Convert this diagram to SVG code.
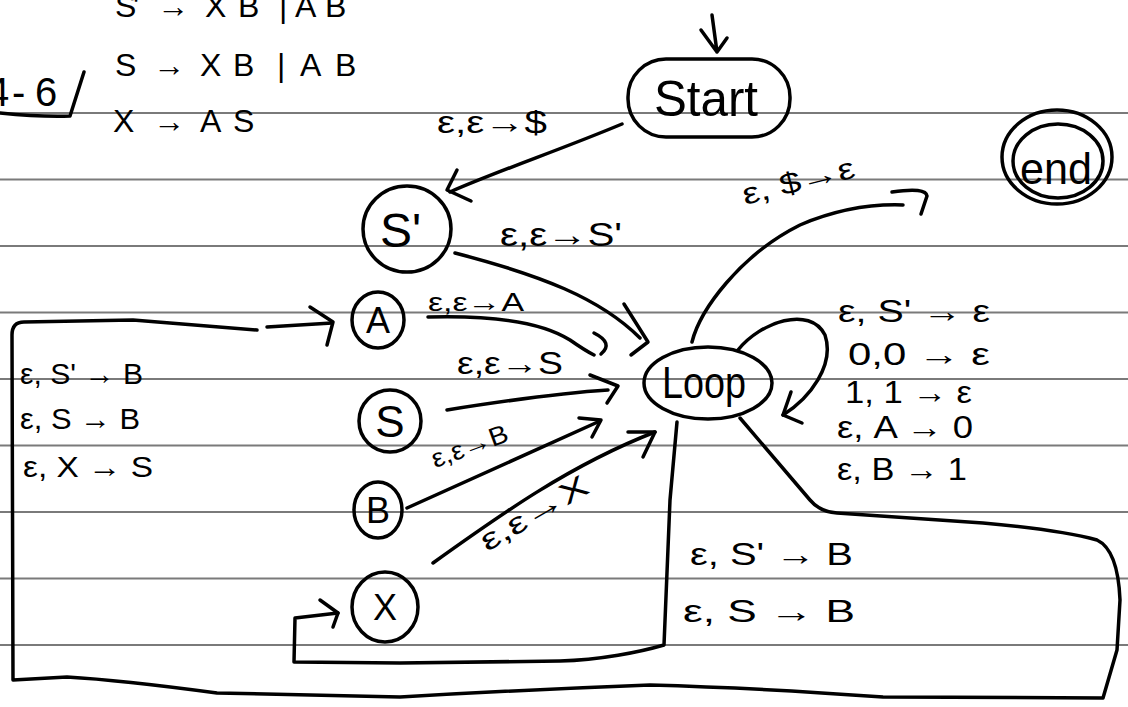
<svg xmlns="http://www.w3.org/2000/svg" width="1128" height="707" viewBox="0 0 1128 707">
  <style>
    .rule { stroke: #7a7a7a; stroke-width: 2; }
    .ink { stroke: #000; stroke-width: 3.5; fill: none; stroke-linecap: round; stroke-linejoin: round; }
    .hand { font-family: "Liberation Sans", Arial, sans-serif; fill: #000; }
  </style>
  <rect width="1128" height="707" fill="#fff"/>

  <!-- ruled notebook lines -->
  <g id="rules">
    <line class="rule" x1="0" y1="113" x2="1128" y2="113"/>
    <line class="rule" x1="0" y1="179.5" x2="1128" y2="179.5"/>
    <line class="rule" x1="0" y1="246" x2="1128" y2="246"/>
    <line class="rule" x1="0" y1="312.5" x2="1128" y2="312.5"/>
    <line class="rule" x1="0" y1="379" x2="1128" y2="379"/>
    <line class="rule" x1="0" y1="445.5" x2="1128" y2="445.5"/>
    <line class="rule" x1="0" y1="512" x2="1128" y2="512"/>
    <line class="rule" x1="0" y1="578.5" x2="1128" y2="578.5"/>
    <line class="rule" x1="0" y1="645" x2="1128" y2="645"/>
  </g>

  <!-- grammar and exercise number -->
  <g id="grammar" class="hand">
    <text font-size="32" x="115 133 157 205 238 279 295 325" y="17">S'→XB|AB</text>
    <text font-size="32" x="115 153 200 233 277 300 335" y="76">S→XB|AB</text>
    <text font-size="32" x="113 153 200 233" y="132">X→AS</text>
    <text font-size="40" x="-13 12 35" y="106">4-6</text>
    <path class="ink" d="M0,113 Q40,117 70,116 L84,72"/>
  </g>

  <!-- transitions -->
  <g id="connectors" class="ink">
    <!-- entry into Start -->
    <path d="M712,15 L717,52 M701,30 L717,52 L727,38"/>
    <!-- Start to S' -->
    <path d="M622,124 C 560,150 500,170 450,192"/>
    <path d="M457,170 L447,190 L471,201"/>
    <!-- S' to Loop -->
    <path d="M455,253 C 540,275 600,298 640,338"/>
    <path d="M624,304 L648,342 L631,355"/>
    <!-- A to Loop -->
    <path d="M428,317 C 500,315 545,324 570,340 C 580,347 588,352 594,355"/>
    <path d="M594,333 Q 614,343 601,354"/>
    <!-- S to Loop -->
    <path d="M447,410 C 510,400 560,393 608,390"/>
    <path d="M590,375 L618,386 L607,403"/>
    <!-- B to Loop -->
    <path d="M407,508 L600,421"/>
    <path d="M579,418 L601,420 L592,437"/>
    <!-- X to Loop -->
    <path d="M433,563 C 500,515 570,465 655,432"/>
    <path d="M628,432 L655,432 L643,457"/>
    <!-- Loop to end -->
    <path d="M692,342 C 700,310 740,255 800,225 C 840,208 875,204 903,205"/>
    <path d="M892,192 Q 926,187 927,196 L921,214"/>
    <!-- Loop self transition -->
    <path d="M738,350 C 760,322 810,305 825,335 C 835,365 810,398 783,415"/>
    <path d="M791,392 L783,415 L802,423"/>
    <!-- Loop back round to A -->
    <path d="M740,418 L810,500 Q 820,512 837,513 L983,523 Q 1060,530 1097,540 Q 1118,550 1120,600 L1117,650 L1103,698 L883,697 Q 760,688 650,685 Q 520,690 400,697 L217,693 Q 120,680 67,677 L13,680 L12,335 Q 12,322 24,322 L133,320 L257,330 M267,327 L332,323"/>
    <path d="M310,307 L333,322 L327,345"/>
    <!-- Loop back round to X -->
    <path d="M677,422 L670,500 L664,645 C 640,652 600,660 560,661 L400,663 L294,662 L295,618 L338,613"/>
    <path d="M320,600 L338,613 L333,627"/>
  </g>

  <!-- states -->
  <g id="node-start">
    <rect class="ink" x="628" y="59" width="162" height="78" rx="38" ry="38"/>
    <text class="hand" font-size="50" x="654" y="116" textLength="104" lengthAdjust="spacingAndGlyphs">Start</text>
  </g>
  <g id="node-end">
    <ellipse class="ink" cx="1057" cy="157" rx="55" ry="47"/>
    <ellipse class="ink" cx="1058" cy="161" rx="45" ry="37"/>
    <text class="hand" font-size="44" x="1020" y="184" textLength="72" lengthAdjust="spacingAndGlyphs">end</text>
  </g>
  <g id="node-sprime">
    <ellipse class="ink" cx="407" cy="229" rx="44" ry="43"/>
    <text class="hand" font-size="48" x="380" y="247">S'</text>
  </g>
  <g id="node-a">
    <ellipse class="ink" cx="378" cy="320" rx="26" ry="28"/>
    <text class="hand" font-size="36" x="378" y="333" text-anchor="middle">A</text>
  </g>
  <g id="node-s">
    <ellipse class="ink" cx="390" cy="421" rx="31" ry="31"/>
    <text class="hand" font-size="44" x="390" y="437" text-anchor="middle">S</text>
  </g>
  <g id="node-b">
    <ellipse class="ink" cx="378" cy="510" rx="24" ry="28"/>
    <text class="hand" font-size="36" x="378" y="523" text-anchor="middle">B</text>
  </g>
  <g id="node-x">
    <ellipse class="ink" cx="385" cy="607" rx="33" ry="35"/>
    <text class="hand" font-size="36" x="385" y="620" text-anchor="middle">X</text>
  </g>
  <g id="node-loop">
    <ellipse class="ink" cx="708" cy="383" rx="64" ry="36"/>
    <text class="hand" font-size="44" x="662" y="398" textLength="84" lengthAdjust="spacingAndGlyphs">Loop</text>
  </g>

  <!-- transition labels -->
  <g id="labels" class="hand">
    <text font-size="32" x="437" y="133" textLength="110" lengthAdjust="spacingAndGlyphs">ε,ε→$</text>
    <text font-size="34" x="500" y="246" textLength="122" lengthAdjust="spacingAndGlyphs">ε,ε→S'</text>
    <text font-size="26" x="428" y="311" textLength="96" lengthAdjust="spacingAndGlyphs">ε,ε→A</text>
    <text font-size="32" x="457" y="374" textLength="106" lengthAdjust="spacingAndGlyphs">ε,ε→S</text>
    <text font-size="26" x="435" y="468" textLength="80" lengthAdjust="spacingAndGlyphs" transform="rotate(-20 435 468)">ε,ε→B</text>
    <text font-size="30" x="487" y="552" textLength="120" lengthAdjust="spacingAndGlyphs" transform="rotate(-30 487 552)">ε,ε→X</text>
    <text font-size="30" x="745" y="205" textLength="115" lengthAdjust="spacingAndGlyphs" transform="rotate(-14 745 205)">ε, $→ε</text>

    <text font-size="32" x="838" y="322" textLength="152" lengthAdjust="spacingAndGlyphs">ε, S' → ε</text>
    <text font-size="32" x="848" y="365" textLength="142" lengthAdjust="spacingAndGlyphs">0,0 → ε</text>
    <text font-size="32" x="845" y="403" textLength="127" lengthAdjust="spacingAndGlyphs">1, 1 → ε</text>
    <text font-size="32" x="837" y="438" textLength="136" lengthAdjust="spacingAndGlyphs">ε, A → 0</text>
    <text font-size="32" x="837" y="480" textLength="130" lengthAdjust="spacingAndGlyphs">ε, B → 1</text>

    <text font-size="30" x="20" y="384" textLength="123" lengthAdjust="spacingAndGlyphs">ε, S' → B</text>
    <text font-size="30" x="20" y="429" textLength="120" lengthAdjust="spacingAndGlyphs">ε, S → B</text>
    <text font-size="30" x="23" y="477" textLength="130" lengthAdjust="spacingAndGlyphs">ε, X → S</text>

    <text font-size="32" x="690" y="565" textLength="163" lengthAdjust="spacingAndGlyphs">ε, S' → B</text>
    <text font-size="32" x="683" y="622" textLength="172" lengthAdjust="spacingAndGlyphs">ε, S → B</text>
  </g>
</svg>
